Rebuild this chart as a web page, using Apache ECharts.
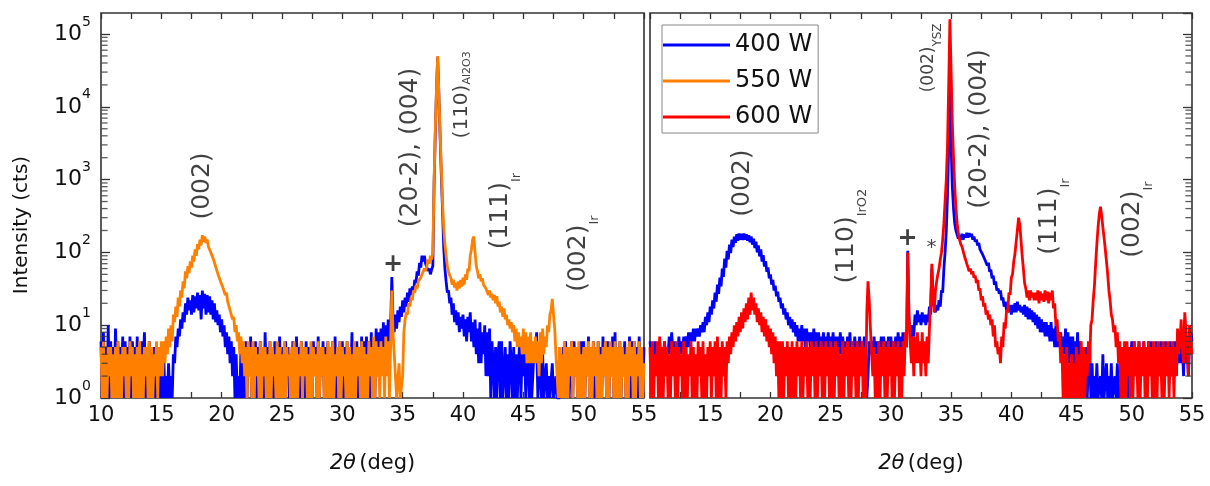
<!DOCTYPE html>
<html><head><meta charset="utf-8">
<script src="https://cdn.jsdelivr.net/npm/echarts@6/dist/echarts.min.js"></script>
<style>html,body{margin:0;padding:0;background:#fff}#c{width:1210px;height:486px}</style>
</head><body><div id="c"></div>
<script>
// 2theta grid: 10.0 .. 55.0 deg, step 0.1 deg
const twoThetaStart = 10, twoThetaStep = 0.1;
const xTickLabels = [10,15,20,25,30,35,40,45,50,55];

// Left panel, 400 W (blue)
const left400W = [
6,1,8,2,5,1,10,1,6,2, 5,1,9,3,6,1,5,2,7,1, 6,2,5,1,7,1,6,3,5,1, 7,2,5,1,6,3,8,1,5,2,
6,1,4,1,5,1,3,1,4,1, 3,1,4,1,2,1,3,1,2,1, 4,3,7,5,9,7,12,9,15,11, 20,14,24,16,22,14,26,15,25,17,
28,16,26,12,30,17,27,14,26,15, 25,14,22,12,20,11,16,10,14,8, 12,7,10,5,8,4,7,3,6,2, 5,1,4,1,2,1,5,1,4,1,
6,1,5,2,7,1,4,2,6,1, 5,2,6,1,5,1,8,2,5,1, 6,2,5,1,6,2,4,1,7,2, 1,5,1,6,2,5,1,4,2,6,
5,1,7,2,5,1,6,2,5,1, 6,1,5,2,4,1,6,2,5,1, 7,1,5,2,6,1,5,2,6,1, 5,2,6,1,7,1,5,2,6,1,
6,1,5,2,6,1,5,2,8,1, 5,2,6,1,5,2,7,1,6,2, 7,2,6,1,8,2,6,1,9,2, 8,2,9,3,11,3,10,4,12,5,
9,46,12,8,14,9,16,11,18,13, 22,15,24,18,28,21,32,26,34,28, 42,38,55,48,72,62,90,75,90,70,
72,56,60,50,58,65,800,4000,16000,48000, 15000,4000,1200,400,120,60,40,28,30,20,
24,14,20,11,16,10,15,8,13,9, 14,7,12,6,13,8,15,6,11,5, 12,4,9,3,11,3,8,4,10,2,
8,2,9,1,6,3,1,5,1,4, 6,1,6,1,1,5,1,4,1,6, 3,1,5,1,4,1,3,6,1,4, 2,5,1,3,4,1,6,1,1,5,
3,8,1,2,5,1,4,1,1,3, 1,2,1,1,3,1,1,2,1,1, 1,4,1,5,1,6,2,4,1,3, 6,1,6,2,5,1,4,1,6,2,
6,1,5,2,7,1,5,1,6,1, 5,1,6,2,5,1,7,2,6,1, 6,1,5,2,7,1,8,1,5,2, 6,1,5,2,6,1,5,2,7,1,
6,1,6,2,5,1,7,2,5,1, 5];

// Left panel, 550 W (orange)
const left550W = [
5,1,6,1,4,1,5,2,5,1, 4,1,5,1,6,1,4,1,5,2, 5,1,4,1,6,2,5,1,4,1, 5,1,6,1,4,1,5,2,5,1,
6,1,5,1,4,2,6,1,5,2, 6,2,6,3,7,4,9,5,10,6, 14,11,18,13,24,18,30,24,40,32, 55,44,65,52,75,62,90,75,110,90,
130,110,150,125,172,140,165,135,150,120, 125,100,105,82,80,64,62,50,50,40, 42,33,34,26,28,21,22,16,17,12, 13,8,10,6,8,4,7,3,6,2,
5,1,6,2,5,1,6,1,5,2, 4,1,6,1,5,2,5,1,4,1, 6,1,5,2,4,1,6,1,5,1, 4,1,6,1,5,2,4,1,5,1,
6,1,5,1,4,2,6,1,5,2, 5,1,4,1,6,1,5,2,4,1, 6,1,5,2,5,1,4,1,6,1, 5,1,6,1,4,2,5,1,6,1,
5,2,4,1,6,1,5,1,4,1, 6,1,5,2,5,1,6,1,5,1, 4,1,6,2,5,1,7,1,6,2, 5,1,6,2,5,1,7,2,6,1,
5,30,8,4,2,1,1,3,1,1, 2,8,12,15,14,20,18,24,22,30, 28,35,32,40,38,45,50,48,60,55,
65,80,70,90,80,100,900,4500,17000,50000, 15000,4500,1500,500,220,130,90,65,55,48,
45,36,42,33,38,30,40,32,42,34, 45,36,50,42,60,55,90,110,150,165, 100,65,55,44,50,40,44,36,38,32,
32,26,30,24,27,22,26,20,25,18, 21,15,18,13,17,12,14,10,12,9, 11,8,10,6,9,5,8,5,7,4, 9,4,8,3,7,3,8,3,6,3,
7,3,6,2,8,3,9,4,7,5, 10,8,14,16,23,14,9,4,4,1, 5,1,4,1,6,1,5,1,5,2, 6,1,5,2,5,1,6,1,4,1,
5,1,5,2,6,1,5,1,6,2, 5,1,6,1,4,1,5,2,6,1, 5,1,6,2,5,1,6,1,5,1, 6,1,5,2,4,1,5,1,6,2,
5,1,6,1,4,2,6,1,5,1, 3];

// Right panel, 400 W (blue)
const right400W = [
6,4,5,3,6,4,5,3,6,4, 5,3,6,4,5,4,7,4,8,4, 6,4,5,4,7,4,6,4,7,5, 7,5,8,5,8,6,9,6,9,7,
9,7,10,8,11,8,13,10,15,11, 18,14,22,17,28,21,36,27,45,34, 60,46,82,62,105,80,128,98,150,118, 165,135,178,145,182,150,180,148,182,150,
178,145,172,138,165,128,155,115,140,100, 125,88,110,75,92,64,76,54,62,44, 50,36,42,30,35,25,29,21,24,17, 20,14,17,12,15,10,13,9,12,8,
11,7,10,6,9,6,10,6,9,5, 9,6,8,5,8,5,9,5,8,5, 8,4,7,5,8,4,7,5,8,4, 7,4,8,4,7,3,7,4,8,4,
7,4,6,3,7,4,8,3,6,4, 7,4,6,3,7,4,6,4,7,3, 1,2,6,4,6,3,7,4,6,4, 6,4,7,3,7,4,6,4,7,4,
7,4,6,4,7,4,8,4,7,4, 8,5,7,5,105,12,8,6,10,7, 14,10,16,11,14,10,15,11,14,10, 14,11,18,14,60,20,18,15,19,16,
22,18,30,28,60,100,200,600,3000,30000, 3000,800,400,250,200,175,155,170,150,180, 150,178,160,186,160,184,165,180,150,165,
140,150,125,135,110,115,95,100,80,85, 66,72,54,58,44,48,36,40,30,32,
27,30,22,24,18,21,16,20,15,19, 14,19,15,20,15,21,16,19,15,18, 14,19,13,18,12,17,12,16,11,15,
10,14,9,13,8,12,8,11,7,11, 7,10,6,11,6,9,5,10,5,8, 5,8,4,7,4,9,3,8,3,7, 3,7,2,6,3,8,2,6,1,5,
4,1,5,1,3,5,1,3,1,2, 1,3,1,1,2,1,4,1,1,3, 1,2,1,3,1,1,2,1,3,1, 2,1,4,1,5,2,4,1,5,3,
6,3,6,3,5,2,6,3,5,3, 6,3,5,2,6,3,6,2,5,3, 6,3,5,3,6,2,5,3,6,3, 5,3,6,2,5,3,6,2,5,3,
6,3,5,2,12,3,5,2,6,8, 6];

// Right panel, 600 W (red)
const right600W = [
5,1,6,1,4,2,6,1,7,1, 5,1,6,2,5,1,4,1,6,2, 5,1,6,1,5,2,4,1,6,1, 5,1,4,2,6,1,5,1,4,1,
6,2,5,1,6,1,4,1,5,2, 6,1,5,2,6,1,7,1,5,1, 6,2,5,1,6,3,7,4,8,5, 10,6,11,7,13,8,15,9,17,11,
20,12,24,14,28,16,24,14,20,11, 17,10,15,8,13,7,12,6,10,5, 9,4,8,3,7,2,6,1,6,1, 6,1,5,2,6,1,5,1,6,1,
5,1,6,2,5,1,6,1,5,2, 6,1,5,1,6,2,5,1,6,1, 5,2,6,1,5,1,6,2,5,1, 6,1,5,1,6,2,5,1,4,1,
6,1,5,2,6,1,5,1,6,2, 5,1,6,1,5,2,6,1,5,1, 15,40,22,9,4,2,5,1,4,1, 6,1,5,2,6,1,5,1,6,2,
5,1,6,1,5,2,6,1,5,1, 6,2,8,5,100,14,6,3,7,2, 7,3,8,3,6,2,8,3,6,2, 7,3,9,20,70,25,15,30,40,50,
60,80,100,150,250,500,1000,3000,20000,160000, 30000,6000,2000,800,400,250,180,150,130,120,
115,90,95,70,70,55,60,50,55,45, 48,38,42,30,32,22,25,18,20,14, 16,12,14,10,12,7,10,5,6,4,
5,3,7,5,11,9,16,15,28,26, 45,50,75,95,140,200,300,240,150,90, 60,38,32,24,30,22,30,24,28,22,
28,22,30,20,29,22,27,21,30,22, 29,20,28,22,30,17,20,10,12,6, 8,3,5,1,4,1,5,1,3,1, 4,1,3,1,5,1,4,1,6,1,
5,1,4,2,6,3,10,12,22,35, 70,130,220,330,424,320,220,160,110,75, 50,30,22,14,12,8,10,5,8,3, 6,1,5,1,6,1,6,2,5,1,
5,1,6,2,5,1,6,1,5,2, 6,1,5,1,6,2,5,1,6,1, 5,1,6,2,5,1,6,1,5,2, 6,1,5,2,6,1,5,2,9,4,
6,12,5,3,15,8,5,2,10,6, 4];

// Peak annotations (2theta, intensity anchor, text)
const leftNotes = [
  {x:18.39, y:817,   main:'(002)',         sub:'',      m:'big', s:''},
  {x:35.69, y:2763,  main:'(20-2), (004)', sub:'',      m:'big', s:''},
  {x:39.91, y:14590, main:'(110)',         sub:'Al2O3', m:'mid', s:'subAl'},
  {x:43.14, y:370,   main:'(111)',         sub:'Ir',    m:'big', s:'subIr'},
  {x:49.59, y:96.2,  main:'(002)',         sub:'Ir',    m:'big', s:'subIr'},
  {x:34.20, y:66.9,  main:'+',             sub:'',      m:'plus', s:'', flat:true}
];
const rightNotes = [
  {x:17.64, y:898,   main:'(002)',         sub:'',      m:'big', s:''},
  {x:26.33, y:167.6, main:'(110)',         sub:'IrO2',  m:'big', s:'subIr'},
  {x:31.38, y:152,   main:'+',             sub:'',      m:'plus', s:'', flat:true},
  {x:33.37, y:114.6, main:'*',             sub:'',      m:'star', s:'', flat:true},
  {x:33.12, y:47080, main:'(002)',         sub:'YSZ',   m:'sml', s:'subY'},
  {x:37.34, y:4966,  main:'(20-2), (004)', sub:'',      m:'big', s:''},
  {x:43.14, y:310.6, main:'(111)',         sub:'Ir',    m:'big', s:'subIr'},
  {x:50.09, y:282.6, main:'(002)',         sub:'Ir',    m:'big', s:'subIr'}
];

const FONT = 'DejaVu Sans';
const INK = '#111';
const FRAME = '#333';

function toPairs(arr){ return arr.map((v,i)=>[Math.round((twoThetaStart + i*twoThetaStep)*10)/10, v]); }
function noteData(list){
  return list.map(n=>({
    value:[n.x, n.y],
    label:{ rotate: n.flat ? 0 : 90,
      formatter: '{'+n.m+'|'+n.main+'}' + (n.sub ? '{'+n.s+'|'+n.sub+'}' : '') }
  }));
}
const noteRich = {
  big:{fontFamily:FONT,fontSize:25,lineHeight:28,color:INK},
  mid:{fontFamily:FONT,fontSize:20,lineHeight:22,color:INK},
  sml:{fontFamily:FONT,fontSize:17,lineHeight:20,color:INK},
  plus:{fontFamily:FONT,fontSize:24,fontWeight:'bold',color:INK},
  star:{fontFamily:FONT,fontSize:20,color:INK},
  subIr:{fontFamily:FONT,fontSize:13,lineHeight:14,color:INK,padding:[32,0,0,0]},
  subAl:{fontFamily:FONT,fontSize:11,lineHeight:12,color:INK,padding:[10,0,0,0]},
  subY:{fontFamily:FONT,fontSize:12,lineHeight:13,color:INK,padding:[18,0,0,0]}
};

// minor tick positions of the log axis (2..9 x 10^n)
const minorVals = [];
for (let n=0;n<5;n++) for (let k=2;k<10;k++) minorVals.push(k*Math.pow(10,n));

const yMin = 1, yMax = 194500;

function xAxisBottom(grid, showMin){
  return {type:'value', gridIndex:grid, min:10, max:55, interval:5, position:'bottom',
    axisLine:{show:false}, splitLine:{show:false},
    axisTick:{inside:true,length:6,lineStyle:{color:FRAME,width:1.3}},
    minorTick:{show:true,splitNumber:2,length:6,lineStyle:{color:FRAME,width:1.3}},
    axisLabel:{fontFamily:FONT,fontSize:21,color:INK,margin:7,showMinLabel:showMin,
      formatter:v=> xTickLabels.includes(v) ? String(v) : ''},
    name:'{i|2\u03B8} {n|(deg)}', nameLocation:'middle', nameGap:55,
    nameTextStyle:{rich:{i:{fontFamily:FONT,fontSize:21,fontStyle:'italic',color:INK},
                         n:{fontFamily:FONT,fontSize:21,color:INK}}}};
}
function xAxisTop(grid){
  return {type:'value', gridIndex:grid, min:10, max:55, interval:5, position:'top',
    axisLine:{show:false}, splitLine:{show:false}, axisLabel:{show:false},
    axisTick:{inside:true,length:6,lineStyle:{color:FRAME,width:1.3}},
    minorTick:{show:true,splitNumber:2,length:6,lineStyle:{color:FRAME,width:1.3}}};
}

const LW = 2.8;
const option = {
  animation:false,
  backgroundColor:'#fff',
  grid:[
    {left:101, top:13, width:543, height:385, show:true, borderColor:FRAME, borderWidth:1.6, backgroundColor:'transparent'},
    {left:650, top:13, width:542, height:385, show:true, borderColor:FRAME, borderWidth:1.6, backgroundColor:'transparent'}
  ],
  xAxis:[ xAxisBottom(0,true), xAxisTop(0), xAxisBottom(1,false), xAxisTop(1) ],
  yAxis:[
    {type:'log', logBase:10, gridIndex:0, min:yMin, max:yMax, position:'left',
     axisLine:{show:false}, splitLine:{show:false},
     axisTick:{inside:true,length:9,lineStyle:{color:FRAME,width:1.3}},
     axisLabel:{margin:10, formatter:v=>'{b|10}{e|'+Math.round(Math.log10(v))+'}',
       rich:{b:{fontFamily:FONT,fontSize:22,color:INK},
             e:{fontFamily:FONT,fontSize:14,color:INK,padding:[0,0,24,0]}}}},
    {type:'log', logBase:10, gridIndex:1, min:yMin, max:yMax, position:'right',
     axisLine:{show:false}, splitLine:{show:false}, axisLabel:{show:false},
     axisTick:{inside:true,length:9,lineStyle:{color:FRAME,width:1.3}}}
  ],
  legend:{
    data:['400 W','550 W','600 W'], orient:'vertical', left:662, top:25,
    icon:'rect', itemWidth:67, itemHeight:3, itemGap:10,
    padding:[7,6,3,1], borderColor:'#888', borderWidth:1, backgroundColor:'#fff',
    selectedMode:false,
    textStyle:{fontFamily:FONT,fontSize:24,color:INK,lineHeight:26}
  },
  graphic:[
    {type:'text', x:22, y:225, rotation:Math.PI/2,
     style:{text:'Intensity (cts)', font:'20px "DejaVu Sans"', fill:INK,
            align:'center', verticalAlign:'middle', textAlign:'center', textVerticalAlign:'middle'}}
  ],
  series:[
    {name:'400 W', type:'line', xAxisIndex:0, yAxisIndex:0, data:toPairs(left400W),
     symbol:'none', showSymbol:false, color:'#0000ff', lineStyle:{width:LW,color:'#0000ff'}, z:2},
    {name:'550 W', type:'line', xAxisIndex:0, yAxisIndex:0, data:toPairs(left550W),
     symbol:'none', showSymbol:false, color:'#ff8000', lineStyle:{width:LW,color:'#ff8000'}, z:3},
    {name:'400 W', type:'line', xAxisIndex:2, yAxisIndex:1, data:toPairs(right400W),
     symbol:'none', showSymbol:false, color:'#0000ff', lineStyle:{width:LW,color:'#0000ff'}, z:2},
    {name:'600 W', type:'line', xAxisIndex:2, yAxisIndex:1, data:toPairs(right600W),
     symbol:'none', showSymbol:false, color:'#ff0000', lineStyle:{width:LW,color:'#ff0000'}, z:3},
    {type:'scatter', xAxisIndex:0, yAxisIndex:0, silent:true, clip:false, z:5,
     data:minorVals.map(v=>[10,v]), symbol:'rect', symbolSize:[6,1.3], symbolOffset:[3.6,0],
     itemStyle:{color:FRAME}},
    {type:'scatter', xAxisIndex:2, yAxisIndex:1, silent:true, clip:false, z:5,
     data:minorVals.map(v=>[55,v]), symbol:'rect', symbolSize:[6,1.3], symbolOffset:[-3.6,0],
     itemStyle:{color:FRAME}},
    {type:'scatter', xAxisIndex:0, yAxisIndex:0, silent:true, clip:false, z:6,
     symbolSize:1, itemStyle:{color:'rgba(0,0,0,0)'},
     label:{show:true, position:'inside', rich:noteRich}, data:noteData(leftNotes)},
    {type:'scatter', xAxisIndex:2, yAxisIndex:1, silent:true, clip:false, z:6,
     symbolSize:1, itemStyle:{color:'rgba(0,0,0,0)'},
     label:{show:true, position:'inside', rich:noteRich}, data:noteData(rightNotes)}
  ]
};
const chart = echarts.init(document.getElementById('c'), null, {renderer:'canvas'});
chart.setOption(option);
</script>
</body></html>
